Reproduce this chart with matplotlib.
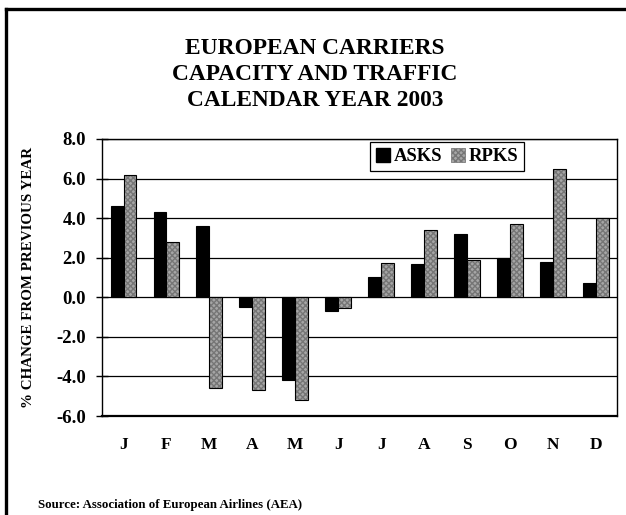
import numpy as np
import matplotlib
matplotlib.use("Agg")
import matplotlib.pyplot as plt
from matplotlib.lines import Line2D

plt.rcParams['font.family'] = ['Liberation Serif', 'DejaVu Serif']
plt.rcParams['font.weight'] = 'bold'

months = ["J", "F", "M", "A", "M", "J", "J", "A", "S", "O", "N", "D"]
asks = [4.6, 4.3, 3.6, -0.5, -4.2, -0.7, 1.0, 1.7, 3.2, 2.0, 1.8, 0.7]
rpks = [6.2, 2.8, -4.6, -4.7, -5.2, -0.55, 1.75, 3.4, 1.9, 3.7, 6.5, 4.0]
yticks = [-6.0, -4.0, -2.0, 0.0, 2.0, 4.0, 6.0, 8.0]

gray_face = '#a6a6a6'
gray_dots = '#767676'

fig = plt.figure(figsize=(6.26, 5.15), dpi=100)
ax = fig.add_axes([0.163, 0.1922, 0.823, 0.538])

x = np.arange(len(months))
w = 0.3
ax.bar(x - w / 2, asks, w, color='black', edgecolor='black', linewidth=0.8, zorder=3)
# gray bars: dotted fill then black outline
ax.bar(x + w / 2, rpks, w, color=gray_face, edgecolor=gray_dots, hatch='xxxxxx', linewidth=0, zorder=3)
ax.bar(x + w / 2, rpks, w, facecolor='none', edgecolor='black', linewidth=0.8, zorder=4)

ax.set_xlim(-0.5, 11.5)
ax.set_ylim(-6, 8)
ax.set_yticks(yticks)
ax.set_yticklabels([f"{v:.1f}" for v in yticks], fontsize=13.5, fontweight='bold')
ax.set_xticks(x)
ax.set_xticklabels(months, fontsize=12.5, fontweight='bold')
ax.tick_params(axis='x', length=0, pad=15)
ax.tick_params(axis='y', direction='inout', length=9, width=1, pad=7)
ax.yaxis.grid(True, color='black', linewidth=0.9, zorder=0)
for s in ax.spines.values():
    s.set_linewidth(1)
ax.spines['bottom'].set_linewidth(1.6)

ax.set_ylabel("% CHANGE FROM PREVIOUS YEAR", fontsize=10.8, fontweight='bold')
ax.yaxis.set_label_coords(-0.13, 0.5)

handles = [plt.Rectangle((0, 0), 1, 1, facecolor='black', edgecolor='black'),
           plt.Rectangle((0, 0), 1, 1, facecolor=gray_face, edgecolor=gray_dots, hatch='xxxxxx', linewidth=0.5)]
leg = ax.legend(handles, ["ASKS", "RPKS"], loc='upper center', bbox_to_anchor=(0.67, 0.988),
                ncol=2, frameon=True, fancybox=False, edgecolor='black', framealpha=1,
                prop={'weight': 'bold', 'size': 13.5}, handlelength=0.75, handleheight=0.75,
                handletextpad=0.2, columnspacing=0.5, borderpad=0.3, borderaxespad=0)
leg.get_frame().set_linewidth(0.9)
leg.set_zorder(6)

title = ["EUROPEAN CARRIERS", "CAPACITY AND TRAFFIC", "CALENDAR YEAR 2003"]
for i, t in enumerate(title):
    fig.text(0.503, 1 - (48 + 26 * i) / 515, t, ha='center', va='center', fontsize=16.8, fontweight='bold')

fig.text(38 / 626, 1 - 505 / 515, "Source: Association of European Airlines (AEA)", ha='left', va='center',
         fontsize=9.3, fontweight='bold')

# outer frame (top and left edges)
fig.add_artist(Line2D([6 / 626, 1], [1 - 9 / 515, 1 - 9 / 515], transform=fig.transFigure, color='black', linewidth=2.4))
fig.add_artist(Line2D([6 / 626, 6 / 626], [1 - 9 / 515, 0], transform=fig.transFigure, color='black', linewidth=2.4))

fig.savefig("out.png", dpi=100)
